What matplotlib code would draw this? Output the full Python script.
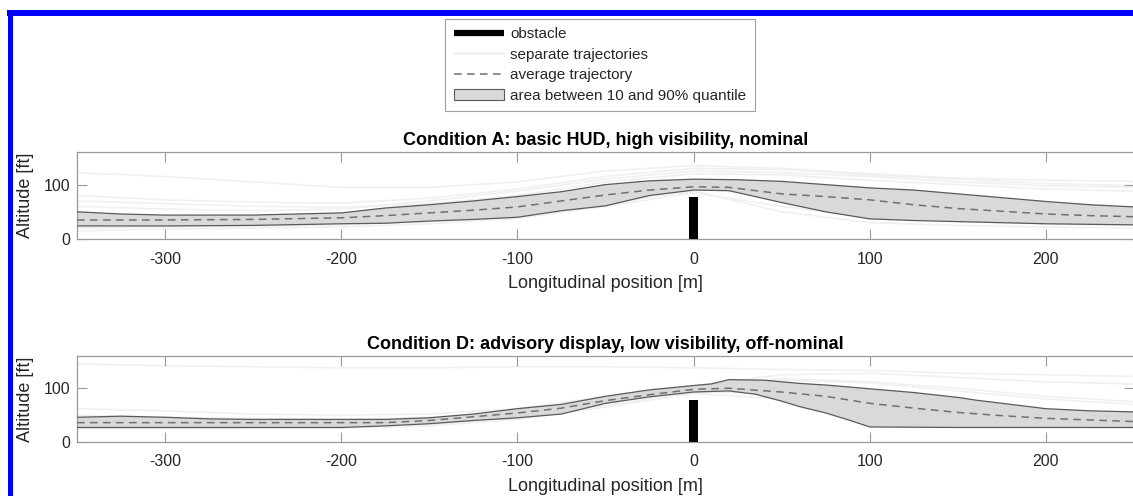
import matplotlib
matplotlib.use("Agg")
import matplotlib.pyplot as plt
from matplotlib.lines import Line2D
from matplotlib.patches import Patch

plt.rcParams['font.family'] = ['Liberation Sans', 'DejaVu Sans']
plt.rcParams['axes.unicode_minus'] = False

W, H = 1133, 496

# ---- data ----
titles = ['Condition A: basic HUD, high visibility, nominal',
          'Condition D: advisory display, low visibility, off-nominal']

# 90% quantile (upper edge of band)
upA_x = [-350, -325, -300, -250, -200, -175, -150, -125, -100, -75, -50, -25, 0, 25, 50, 75, 100, 125, 150, 175, 200, 225, 250]
upA_y = [50, 46, 44, 44, 48, 57, 63, 70, 78, 87, 100, 107, 110, 109, 106, 100, 94, 90, 83, 76, 69, 63, 59]
# average
meanA_x = [-350, -300, -250, -200, -175, -150, -125, -100, -75, -50, -25, 0, 20, 50, 75, 100, 125, 150, 175, 200, 225, 250]
meanA_y = [35, 35, 36, 39, 43, 48, 53, 59, 70, 81, 90, 96, 95, 83, 78, 72, 63, 56, 51, 46, 43, 41]
# 10% quantile
loA_x = [-350, -300, -250, -200, -175, -150, -125, -100, -75, -50, -25, 0, 20, 50, 75, 100, 125, 150, 200, 250]
loA_y = [24, 24, 25, 28, 29, 33, 36, 40, 52, 61, 80, 90, 89, 67, 50, 37, 34, 32, 28, 26]

upD_x = [-350, -325, -300, -275, -250, -200, -175, -150, -125, -100, -75, -50, -25, 0, 10, 20, 40, 60, 75, 100, 125, 150, 160, 175, 200, 225, 250]
upD_y = [46, 48, 46, 43, 42, 42, 42, 45, 52, 62, 70, 85, 97, 105, 108, 116, 115, 109, 106, 99, 92, 83, 78, 72, 62, 58, 56]
meanD_x = [-350, -250, -200, -175, -150, -125, -100, -75, -50, -25, 0, 20, 50, 75, 100, 125, 150, 175, 200, 225, 250]
meanD_y = [36, 36, 36, 36, 40, 47, 54, 63, 77, 88, 98, 100, 93, 85, 72, 63, 55, 49, 44, 41, 38]
loD_x = [-350, -250, -200, -175, -150, -125, -100, -75, -50, -25, 0, 20, 35, 50, 60, 75, 88, 100, 150, 250]
loD_y = [27, 27, 27, 30, 34, 40, 45, 52, 72, 84, 93, 95, 89, 76, 66, 54, 41, 28, 27, 27]

# a few of the faint single runs
traj_x = [-350, -300, -250, -200, -150, -100, -50, 0, 50, 100, 150, 200, 250]
trajA = [
    [122, 115, 105, 95, 95, 105, 125, 135, 130, 120, 112, 108, 106],
    [70, 65, 60, 58, 65, 80, 105, 120, 118, 108, 100, 92, 88],
    [15, 18, 20, 22, 28, 38, 60, 85, 60, 40, 32, 28, 25],
    [60, 55, 52, 55, 70, 88, 110, 125, 122, 115, 105, 98, 95],
    [40, 38, 37, 40, 48, 60, 85, 100, 90, 75, 62, 55, 50],
    [30, 28, 30, 32, 36, 48, 70, 92, 80, 55, 45, 38, 34],
    [80, 72, 68, 66, 75, 92, 115, 130, 128, 118, 110, 102, 98],
    [20, 22, 24, 26, 32, 42, 65, 88, 50, 30, 25, 22, 20],
]
trajD = [
    [145, 142, 140, 138, 138, 140, 140, 138, 135, 133, 128, 125, 122],
    [62, 58, 52, 50, 52, 62, 85, 105, 125, 128, 120, 112, 108],
    [40, 42, 40, 38, 42, 50, 75, 98, 115, 110, 95, 80, 70],
    [25, 25, 26, 26, 30, 42, 65, 90, 80, 40, 30, 28, 27],
    [35, 34, 33, 34, 38, 50, 72, 96, 105, 85, 60, 48, 42],
    [50, 46, 44, 42, 46, 56, 80, 102, 118, 112, 100, 85, 75],
    [30, 30, 30, 30, 33, 45, 68, 92, 92, 60, 40, 35, 32],
]

obstacle_x = [0]
obstacle_h = [78]

xticks = [-300, -200, -100, 0, 100, 200]
yticks = [0, 100]

panels = [
    (trajA, upA_x, upA_y, meanA_x, meanA_y, loA_x, loA_y),
    (trajD, upD_x, upD_y, meanD_x, meanD_y, loD_x, loD_y),
]

fig = plt.figure(figsize=(W / 100, H / 100), dpi=100)
fig.patch.set_facecolor('white')

# axes boxes in pixels: left, top, bottom
boxes = [(77, 152, 239), (77, 356, 442)]
right_px = 1134

band_col = '#d9d9d9'
edge_col = '#5a5a5a'
mean_col = '#707070'
traj_col = '#f0f0f0'
spine_col = '#9a9a9a'
text_col = '#262626'

for (trajs, ux, uy, mx, my, lx, ly), title, (lpx, tpx, bpx) in zip(panels, titles, boxes):
    ax = fig.add_axes([lpx / W, 1 - bpx / H, (right_px - lpx) / W, (bpx - tpx) / H])
    for t in trajs:
        ax.plot(traj_x, t, color=traj_col, lw=1.2, zorder=1)
    # shaded area between the quantiles
    ax.fill(ux + lx[::-1], uy + ly[::-1], color=band_col, lw=0, zorder=2)
    ax.plot(ux, uy, color=edge_col, lw=0.9, zorder=3)
    ax.plot(lx, ly, color=edge_col, lw=0.9, zorder=3)
    ax.plot(mx, my, color=mean_col, lw=1.1, ls=(0, (5, 3.5)), zorder=4)
    ax.bar(obstacle_x, obstacle_h, width=5, color='black', zorder=5)

    ax.set_xlim(-350, 250)
    ax.set_ylim(0, 160)
    ax.set_xticks(xticks)
    ax.set_yticks(yticks)
    ax.tick_params(direction='in', top=True, right=True, length=7.5, width=0.8,
                   color=spine_col, labelcolor=text_col, labelsize=11.5)
    ax.tick_params(axis='x', pad=9)
    ax.tick_params(axis='y', pad=5)
    for s in ax.spines.values():
        s.set_color(spine_col)
        s.set_linewidth(0.9)
    ax.set_title(title, fontsize=13, fontweight='bold', color='black', pad=5)
    ax.set_xlabel('Longitudinal position [m]', fontsize=13, color=text_col, labelpad=6)
    ax.set_ylabel('Altitude [ft]', fontsize=13, color=text_col)
    ax.yaxis.set_label_coords((34 - lpx) / (right_px - lpx), 0.5)

handles = [
    Line2D([], [], color='black', lw=4.5, solid_capstyle='butt'),
    Line2D([], [], color='#e6e6e6', lw=1.0),
    Line2D([], [], color=mean_col, lw=1.1, ls=(0, (5, 3.5))),
    Patch(facecolor=band_col, edgecolor=edge_col, lw=0.8),
]
labels = ['obstacle', 'separate trajectories', 'average trajectory',
          'area between 10 and 90% quantile']
leg = fig.legend(handles, labels, loc='upper center', bbox_to_anchor=(600 / W, 1 - 19 / H),
                 fontsize=11, frameon=True, fancybox=False, framealpha=1,
                 edgecolor='#a0a0a0', handlelength=3.3, handletextpad=0.4,
                 labelspacing=0.42, borderpad=0.55, borderaxespad=0)
leg.get_frame().set_linewidth(0.8)
for t in leg.get_texts():
    t.set_color(text_col)

# blue frame (top and left edges visible)
fig.add_artist(Line2D([7 / W, 1], [1 - 13 / H] * 2, color='#0000ff', lw=4.3,
                      transform=fig.transFigure, solid_capstyle='butt'))
fig.add_artist(Line2D([10 / W] * 2, [0, 1 - 10 / H], color='#0000ff', lw=3.6,
                      transform=fig.transFigure, solid_capstyle='butt'))

fig.savefig('out.png', dpi=100)
